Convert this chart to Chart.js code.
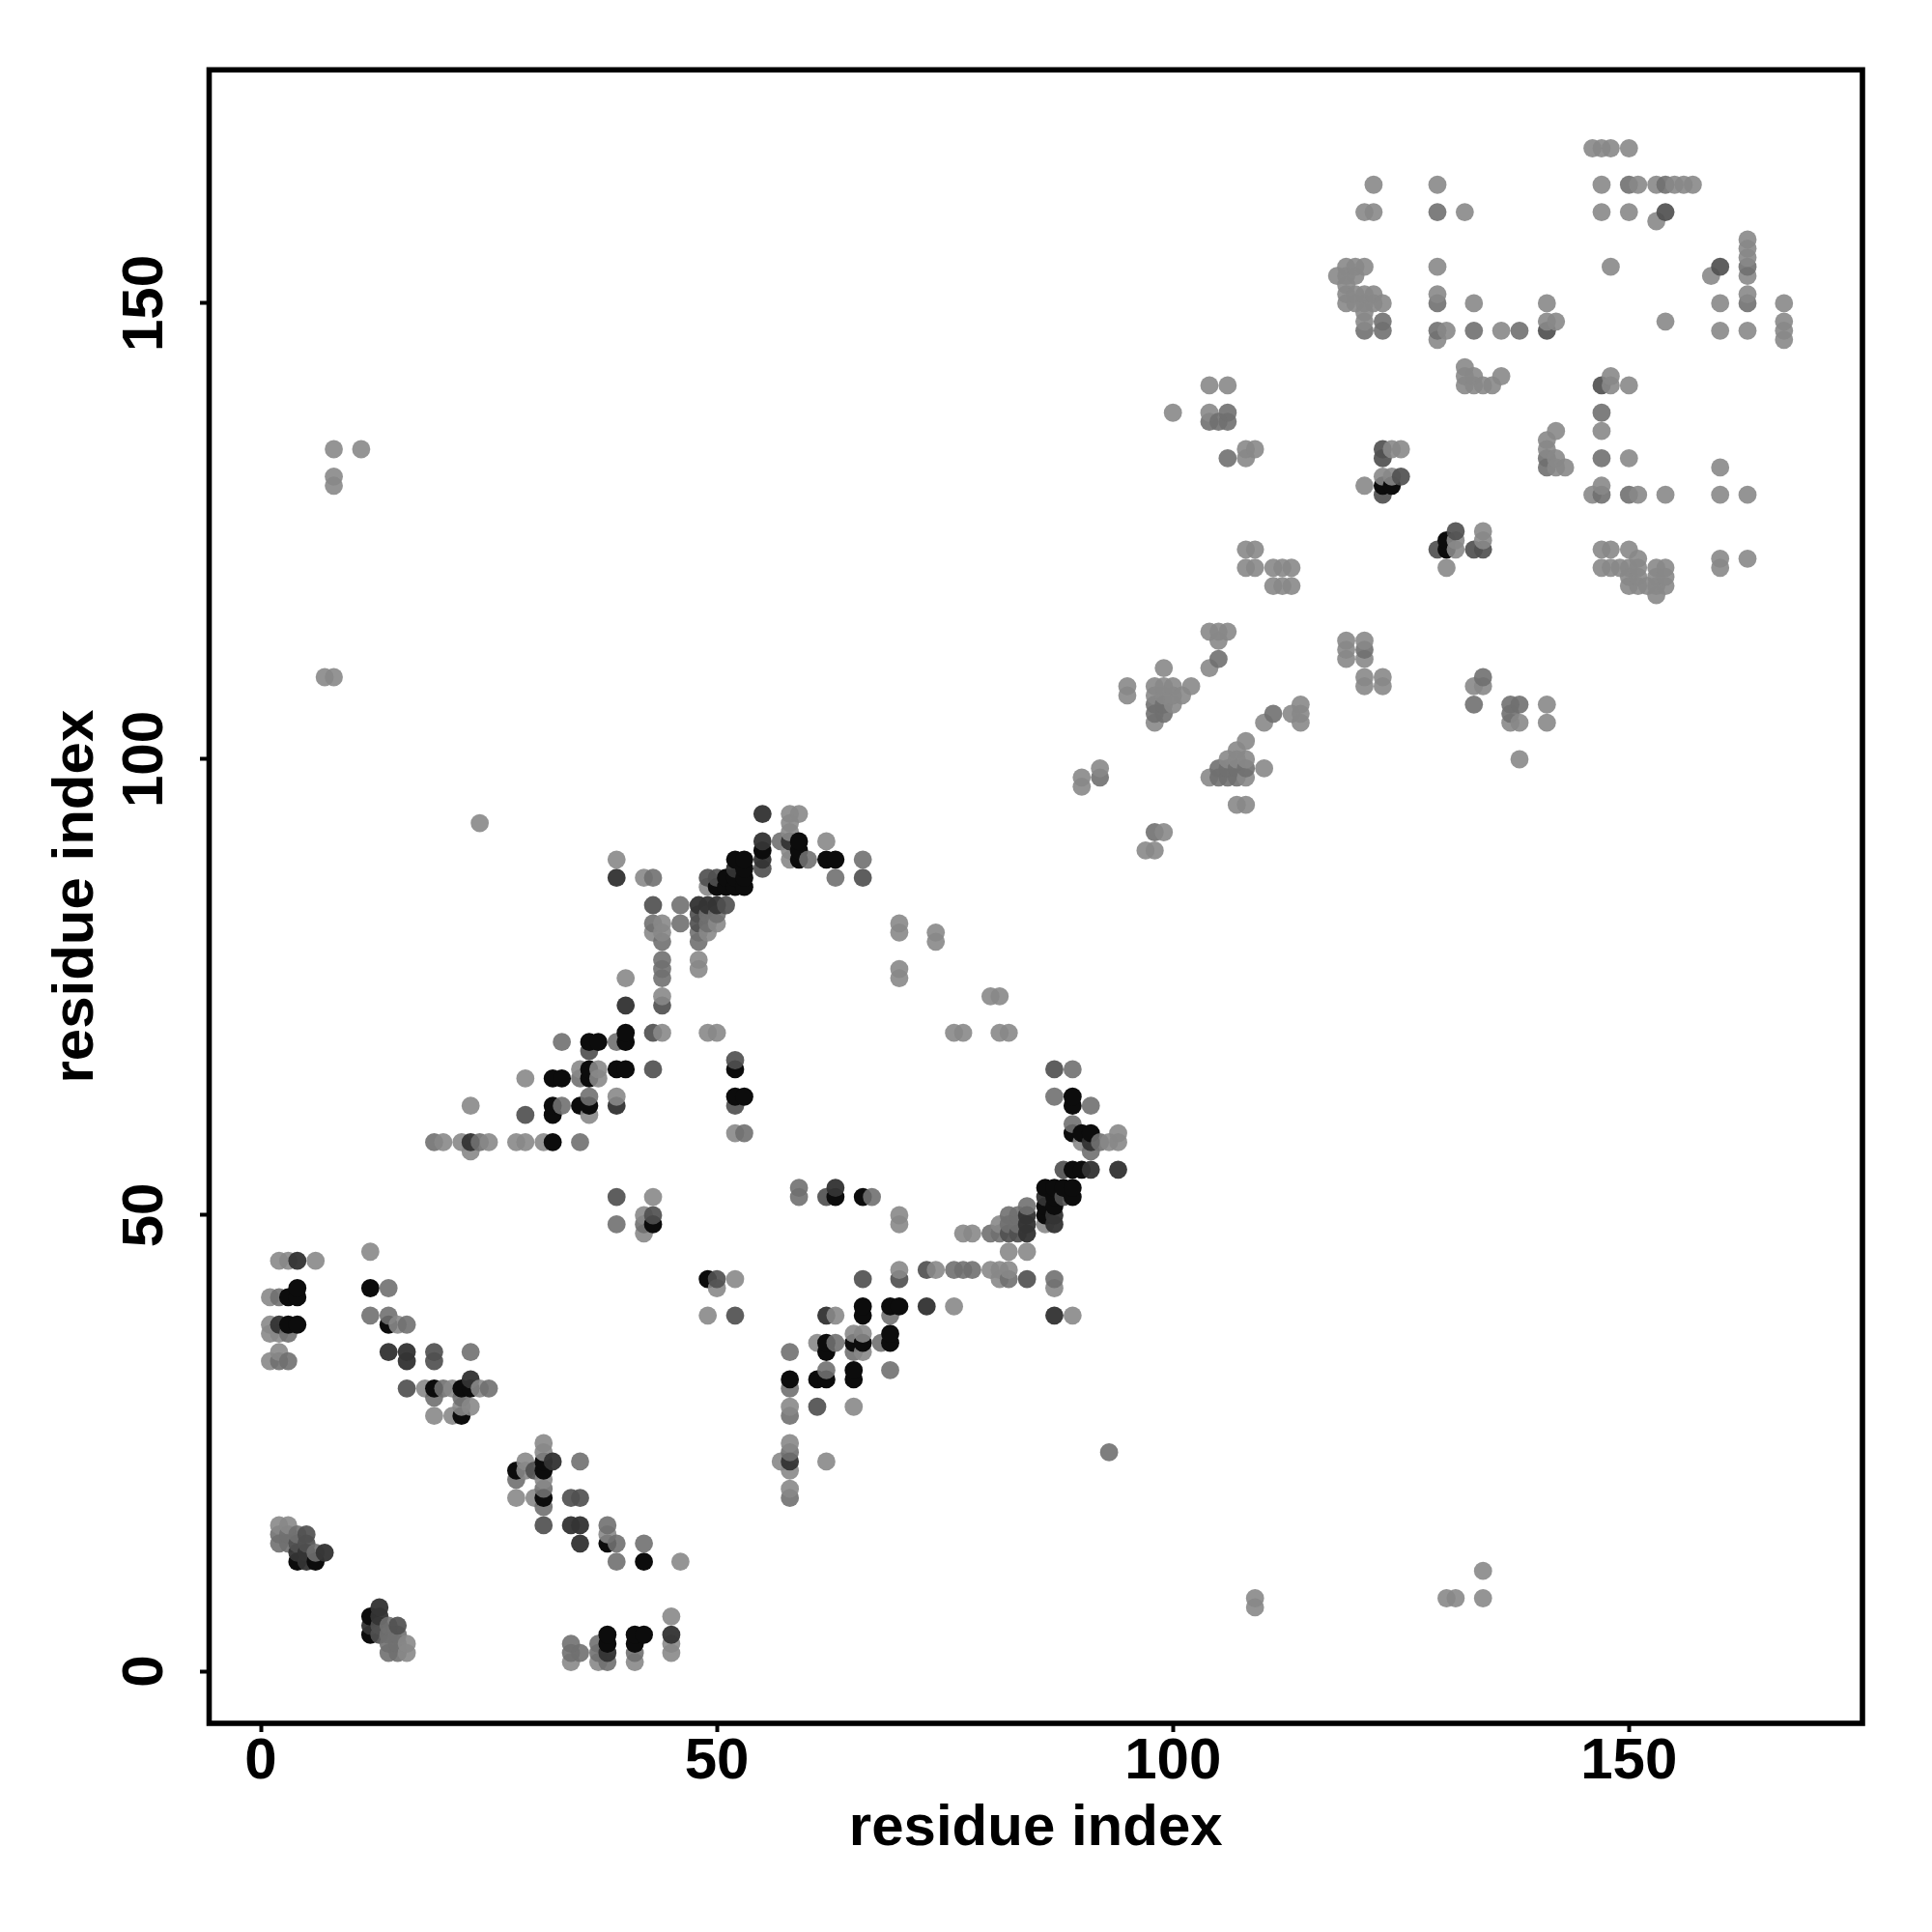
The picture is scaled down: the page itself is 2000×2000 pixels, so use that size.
<!DOCTYPE html>
<html>
<head>
<meta charset="utf-8">
<title>residue contacts</title>
<script src="https://cdn.jsdelivr.net/npm/chart.js@4/dist/chart.umd.min.js"></script>
<style>
    body { margin: 0; background: #fff; }
    canvas { display: block; }
</style>
</head>
<body>
<canvas id="contact-chart" width="2000" height="2000"></canvas>
<script>
// [residue x, residue y], grouped by how dark the dot is
const blackPoints = [
    [4,42],[4,41],[3,41],[3,38],[4,38],[12,42],[14,38],[19,31],[22,31],[23,31],[22,28],[31,23],[28,22],[31,22],[31,19],
    [38,14],[42,12],[38,4],[38,3],[41,4],[42,4],[41,3],[12,6],[12,4],[4,12],[6,12],[49,43],
    [66,40],[69,40],[70,40],[66,39],[69,37],[62,36],[65,36],[66,36],[69,36],[62,35],[65,33],[58,32],[61,32],[62,32],[65,32],
    [59,91],[59,90],[52,89],[53,89],[59,89],[62,89],[63,89],[53,88],[51,87],[52,87],[53,87],[50,86],[51,86],[52,86],[53,86],[55,90],
    [40,70],[36,69],[37,69],[40,69],[36,66],[39,66],[40,66],[52,66],[32,65],[33,65],[36,65],[52,63],[53,63],[32,62],[35,62],[36,62],[32,61],[32,58],
    [63,52],[66,52],[43,49],[89,63],[89,62],[89,59],[90,59],[91,59],[89,55],[90,55],
    [86,53],[87,53],[88,53],[89,53],[87,52],[89,52],[86,51],[87,51],[86,50],
    [123,130],[124,130],[130,124],[130,123]
];
const darkPoints = [
    [4,45],[2,38],[14,35],[16,35],[16,34],[23,32],[32,23],[34,16],[35,16],[35,14],[7,13],[4,13],[5,13],[5,12],[13,7],[13,6],[12,5],[38,2],[45,4],
    [84,50],[84,49],[84,48],[87,50],[87,49],[62,39],[73,40],[87,39],[58,23],[55,94],[55,91],[58,91],[55,89],[50,84],[48,84],[49,84],[39,87],[40,73],
    [23,58],[39,62],[63,53],[91,58],[91,55],[94,55],[86,52],[52,88]
];
const dimPoints = [
    [5,15],[4,14],[5,14],[19,35],[19,34],[16,31],[30,22],[34,19],[35,19],[31,16],[13,5],[13,4],[15,5],[50,43],[52,39],[66,43],[70,43],[73,44],[84,43],
    [61,29],[29,61],[52,62],[52,67],[43,66],[36,68],[43,70],[44,73],[39,52],[62,52],[43,84],[43,50],[49,87],[50,87],[55,88],[66,87],[51,84],[48,83],[48,82],
    [87,66],[88,55],[88,52],[82,48],[83,48],[160,154],[154,160],[123,134],[123,133],[125,131],[123,129],[131,125],[129,123],[133,123],[134,123],[147,141],[141,147]
];
const midPoints = [
    [2,41],[14,42],[12,39],[14,39],[16,38],[3,37],[2,15],[2,14],[3,14],[3,15],[23,35],[20,31],[25,31],[22,30],[19,30],[28,21],[31,20],[31,18],[38,16],
    [39,14],[42,14],[39,12],[35,23],[6,13],[14,4],[14,5],[15,4],[14,3],[15,3],[14,2],[15,2],[34,3],[34,2],[35,2],[37,3],[37,2],[38,1],[41,2],[2,34],[3,34],[4,15],
    [39,49],[58,35],[58,31],[58,28],[58,24],[58,19],[63,36],[68,36],[62,33],[69,33],[65,35],[69,39],[76,44],[77,44],[78,44],[80,48],[81,48],[82,49],[82,43],
    [83,49],[83,50],[82,50],[87,43],[84,51],[57,91],[66,89],[60,89],[63,87],[43,87],[48,81],[48,80],[49,82],[49,83],[50,83],[44,80],[44,78],[44,77],[44,76],
    [46,84],[46,82],[43,82],[33,69],[39,69],[35,65],[36,63],[33,62],[19,58],[24,58],[35,58],[53,59],[67,52],[59,53],[59,52],[42,49],[87,63],[89,66],[91,62],
    [89,60],[91,57],[92,58],[93,24],[105,111],[121,112],[99,106],[99,105],[98,105],[98,106],[105,99],[106,99],[107,99],[105,98],[106,98],[107,98],[108,99],
    [111,105],[92,98],[98,92],[133,106],[134,109],[137,106],[138,106],[137,105],[106,138],[106,137],[105,137],[104,137],[129,160],[133,147],[138,147],[129,150],
    [129,147],[163,150],[154,163],[150,163],[163,154],[147,138],[147,133],[147,129],[150,129],[141,133],[141,132],[106,133],[123,148],[123,147],[121,147]
];
const lightPoints = [
    [1,41],[2,45],[3,45],[6,45],[12,46],[1,38],[1,37],[2,37],[2,35],[1,34],[2,16],[3,16],[15,38],[18,31],[21,31],[24,31],[23,29],[22,29],[19,28],[21,28],
    [31,25],[31,24],[29,23],[29,22],[31,21],[28,19],[30,19],[38,15],[46,12],[16,3],[16,2],[34,1],[37,1],[41,1],[45,6],[45,3],[45,2],
    [70,50],[70,49],[77,48],[78,48],[81,49],[82,46],[84,46],[86,49],[87,42],[70,44],[74,44],[80,44],[81,44],[82,44],[81,43],[50,42],[52,43],[49,39],[89,39],
    [63,39],[76,40],[65,37],[66,37],[61,36],[66,35],[58,29],[65,29],[58,25],[57,23],[62,23],[58,22],[58,20],[24,93],[58,94],[59,94],[58,93],[58,92],[62,91],
    [58,90],[58,89],[39,89],[42,87],[49,86],[44,82],[43,81],[44,81],[48,78],[48,77],[40,76],[44,74],[50,82],[49,81],[44,70],[49,70],[50,70],[35,66],[37,66],
    [37,65],[29,65],[39,63],[23,62],[36,61],[20,58],[22,58],[25,58],[28,58],[29,58],[31,58],[23,57],[52,59],[43,52],[42,50],[42,48],[70,82],[70,81],[74,81],
    [74,80],[70,77],[70,76],[80,74],[81,74],[76,70],[77,70],[81,70],[82,70],[94,59],[94,58],[93,58],[90,58],
    [8,134],[11,134],[8,131],[8,130],[7,109],[8,109],[109,8],[109,7],[130,8],[131,8],[134,11],[134,8],[100,138],
    [111,119],[112,119],[113,119],[104,114],[105,114],[106,114],[105,113],[104,110],[119,113],[119,112],[119,111],[121,113],[121,111],[121,109],[121,108],
    [123,109],[123,108],[99,110],[95,108],[95,107],[98,108],[99,108],[100,108],[102,108],[100,107],[101,107],[98,107],[99,107],[100,106],[98,104],[110,104],
    [113,105],[114,106],[114,105],[114,104],[108,102],[107,101],[106,100],[107,100],[108,100],[108,98],[110,99],[104,98],[107,95],[108,95],[99,92],[97,90],
    [98,90],[92,99],[90,98],[90,97],[133,108],[134,108],[137,104],[138,104],[141,106],[141,104],[138,100],
    [146,167],[147,167],[148,167],[150,167],[122,163],[129,163],[147,163],[151,163],[153,163],[155,163],[156,163],[157,163],[121,160],[122,160],[132,160],
    [147,160],[150,160],[153,159],[163,157],[163,156],[163,155],[163,153],[159,153],[148,154],[129,154],[119,154],[120,154],[121,154],[118,153],[119,153],
    [120,153],[119,152],[119,151],[120,151],[121,151],[122,151],[129,151],[119,150],[120,150],[121,150],[122,150],[123,150],[133,150],[141,150],[160,150],
    [163,151],[167,150],[121,149],[121,148],[141,148],[142,148],[154,148],[167,148],[130,147],[136,147],[160,147],[163,147],[167,147],[129,146],[167,146],
    [132,143],[132,142],[133,142],[136,142],[148,142],[132,141],[134,141],[135,141],[133,141],[148,141],[150,141],[147,136],[142,136],[141,135],[141,134],
    [124,134],[125,134],[150,133],[142,133],[142,132],[143,132],[160,132],[123,131],[124,131],[121,130],[147,130],[146,129],[151,129],[154,129],[160,129],[163,129],
    [134,125],[131,124],[134,124],[131,123],[130,121],[147,123],[148,123],[150,123],[151,122],[160,122],[163,122],[147,121],[148,121],[149,121],[150,121],
    [151,121],[153,121],[154,121],[160,121],[150,120],[151,120],[153,120],[154,120],[150,119],[151,119],[152,119],[153,119],[154,119],[153,118],
    [108,134],[109,134],[108,133],[104,141],[106,141],[104,138],[108,123],[109,123],[108,121],[109,121],[111,121],[112,121],[113,121]
];

const tickValues = [0, 50, 100, 150];
const axisTitle = "residue index";

// Dots are painted left to right, bottom to top, so overlaps stack like the original
const shadeGroups = [
    { points: blackPoints, color: "rgb(12, 12, 12)" },
    { points: darkPoints, color: "rgba(52, 52, 52, 0.96)" },
    { points: dimPoints, color: "rgba(80, 80, 80, 0.92)" },
    { points: midPoints, color: "rgba(112, 112, 112, 0.9)" },
    { points: lightPoints, color: "rgba(136, 136, 136, 0.9)" }
];
const rows = [];
shadeGroups.forEach(group => {
    group.points.forEach(p => rows.push({ x: p[0], y: p[1], color: group.color }));
});
rows.sort((a, b) => a.x - b.x || a.y - b.y);

const framePlugin = {
    id: "frame",
    afterDraw(chart) {
        const { ctx, chartArea } = chart;
        ctx.save();
        ctx.strokeStyle = "#000";
        ctx.lineWidth = 5.6;
        ctx.lineJoin = "miter";
        ctx.strokeRect(chartArea.left, chartArea.top, chartArea.right - chartArea.left, chartArea.bottom - chartArea.top);
        ctx.restore();
    }
};

const labelFont = { family: "'Liberation Sans'", size: 60, weight: "bold" };

new Chart(document.getElementById("contact-chart").getContext("2d"), {
    type: "scatter",
    data: {
        datasets: [{
            data: rows.map(r => ({ x: r.x, y: r.y })),
            pointRadius: 9.4,
            pointBorderWidth: 0,
            pointBackgroundColor: rows.map(r => r.color)
        }]
    },
    options: {
        responsive: false,
        animation: false,
        layout: { padding: { top: 72.3, right: 72, left: 0, bottom: 0 } },
        plugins: { legend: { display: false }, tooltip: { enabled: false } },
        scales: {
            x: {
                type: "linear",
                min: -5.67,
                max: 175.6,
                afterBuildTicks: scale => { scale.ticks = tickValues.map(v => ({ value: v })); },
                afterFit: scale => { scale.height = 216; },
                grid: { drawOnChartArea: false, drawTicks: true, tickLength: 9, tickWidth: 4, color: "#000" },
                border: { display: false },
                ticks: { color: "#000", font: labelFont, padding: -5, maxRotation: 0, minRotation: 0, callback: v => String(v) },
                title: { display: true, text: axisTitle, color: "#000", font: labelFont, padding: { top: 0, bottom: 71 } }
            },
            y: {
                type: "linear",
                min: -5.72,
                max: 175.6,
                afterBuildTicks: scale => { scale.ticks = tickValues.map(v => ({ value: v })); },
                afterFit: scale => { scale.width = 216.5; },
                grid: { drawOnChartArea: false, drawTicks: true, tickLength: 9.5, tickWidth: 4, color: "#000" },
                border: { display: false },
                ticks: { color: "#000", font: labelFont, padding: 5, crossAlign: "center", maxRotation: 90, minRotation: 90, callback: v => String(v) },
                title: { display: true, text: axisTitle, color: "#000", font: labelFont, padding: { top: 43, bottom: 0 } }
            }
        }
    },
    plugins: [framePlugin]
});
</script>
</body>
</html>
